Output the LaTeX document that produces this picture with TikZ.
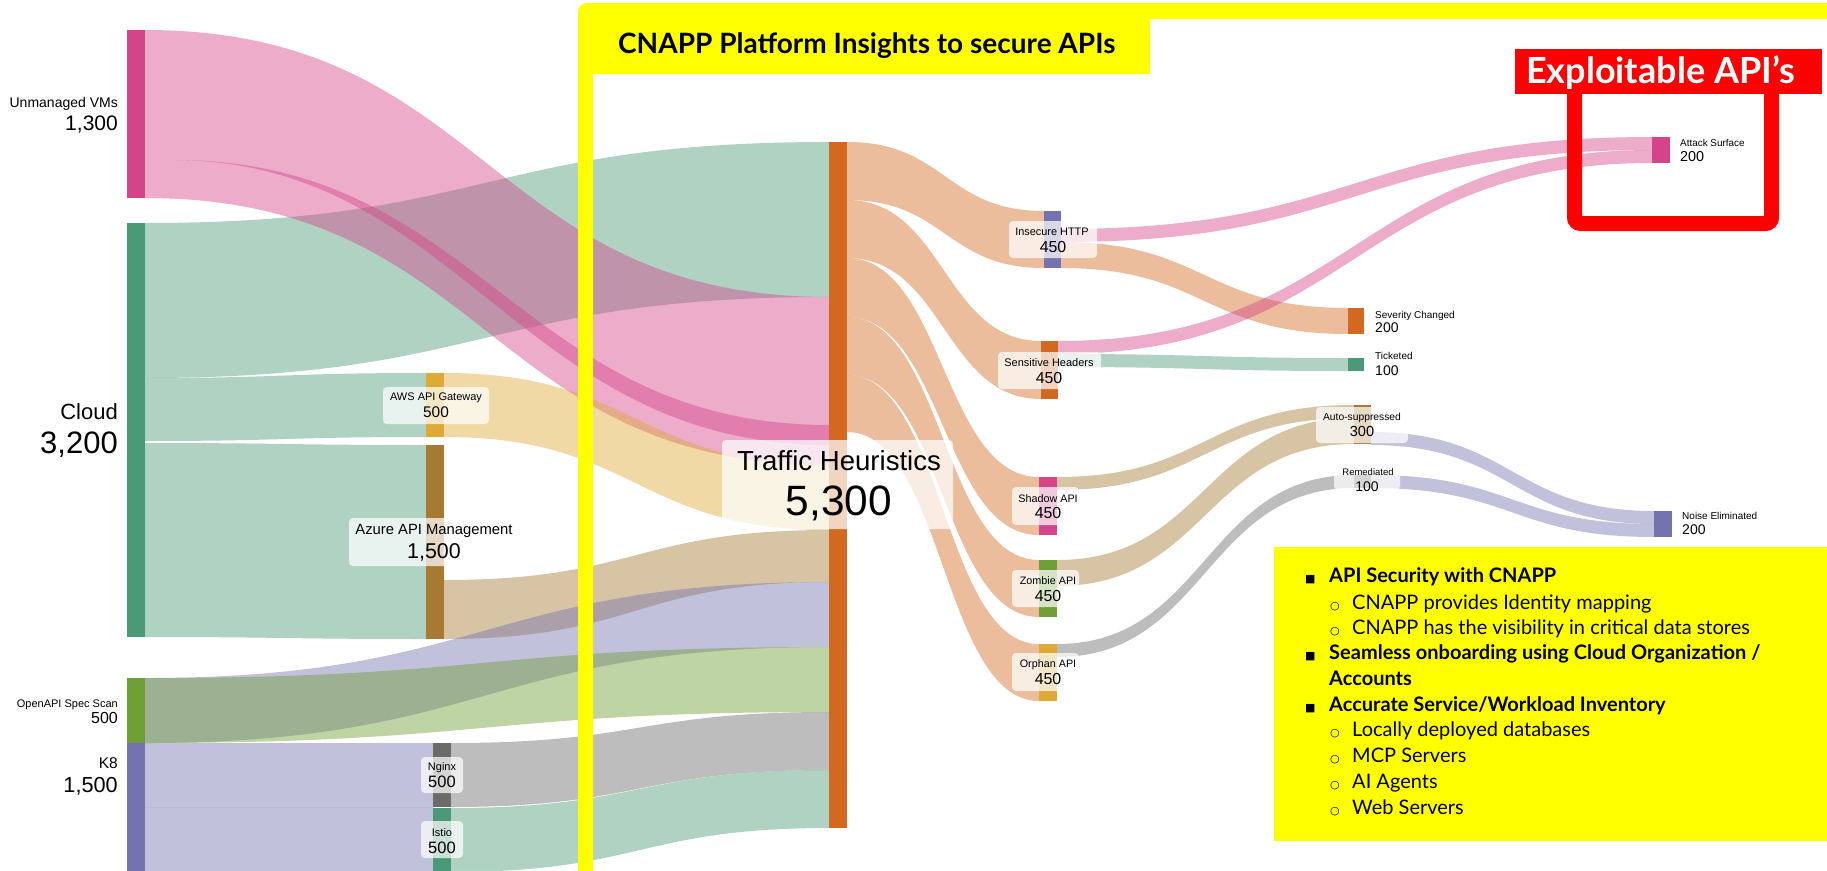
\documentclass[tikz,border=0pt]{standalone}
\usepackage{fontspec}
\setmainfont{Liberation Sans}
\newfontfamily\grot{Lato}
\newfontfamily\symf{DejaVu Sans}
\definecolor{cUVM}{HTML}{D44488}
\definecolor{cCloud}{HTML}{4A9A78}
\definecolor{cOpen}{HTML}{6E9E34}
\definecolor{cKeight}{HTML}{7572B0}
\definecolor{cAWS}{HTML}{DEA934}
\definecolor{cAzure}{HTML}{A67A32}
\definecolor{cNginx}{HTML}{6B6B6B}
\definecolor{cTH}{HTML}{D2691E}
\definecolor{yel}{HTML}{FFFF00}
\definecolor{redx}{HTML}{FF0000}
\newcommand{\fs}[1]{\fontsize{#1}{#1}\selectfont}
% flow band: color, x1, y1top, y1bot, x2, y2top, y2bot
\newcommand{\flow}[7]{\fill[#1,fill opacity=0.44] (#2,#3) .. controls ({(#2+#5)/2},#3) and ({(#2+#5)/2},#6) .. (#5,#6) -- (#5,#7) .. controls ({(#2+#5)/2},#7) and ({(#2+#5)/2},#4) .. (#2,#4) -- cycle;}
% bar node: name, color, x1, y1, x2, y2
\newcommand{\mkbar}[6]{\node[fill=#2, inner sep=0pt, outer sep=0pt, minimum width={#5-#3}, minimum height={#6-#4}, anchor=north west] (#1) at (#3,#4) {};}
\tikzset{
  lbox/.style={fill=white, fill opacity=0.72, rounded corners=4},
  lab/.style={inner sep=0pt, font=#1},
  lab/.default={\fs{11}},
}
\begin{document}
\begin{tikzpicture}[x=1pt,y=-1pt]
\useasboundingbox (0,0) rectangle (1827,870);
\clip (0,0) rectangle (1827,870);
\fill[white] (0,0) rectangle (1827,870);

% ---------- flows, left part ----------
\flow{cCloud}{145}{223}{378}{829}{142}{297}
\flow{cUVM}{145}{30}{198}{829}{297}{465}
\fill[cUVM,fill opacity=0.44] (174,160) .. controls (480,160) and (520,425) .. (829,425) -- (829,445) .. controls (520,445) and (460,161) .. (174,160) -- cycle;
\flow{cCloud}{145}{378}{441}{426}{373}{437}
\flow{cCloud}{145}{443}{637}{426}{445}{639}
\flow{cAWS}{444}{373}{437}{829}{465}{530}
\flow{cAzure}{444}{580}{639}{829}{530}{582}
\flow{cKeight}{145}{678}{743}{829}{582}{647}
\flow{cOpen}{145}{678}{743}{829}{647}{712}
\flow{cKeight}{145}{743}{807}{433}{743}{807}
\flow{cKeight}{145}{808}{872}{433}{808}{872}
\draw[cKeight!50, line width=0.6] (145,807.5) -- (433,807.5);
\flow{cNginx}{451}{743}{807}{829}{712}{770}
\flow{cCloud}{451}{808}{872}{829}{770}{828}

% ---------- flows, right part ----------
\flow{cTH}{847}{142}{200}{1044}{211}{268}
\flow{cTH}{847}{200}{258}{1041}{341}{399}
\flow{cTH}{847}{258}{317}{1039}{477}{535}
\flow{cTH}{847}{317}{375}{1039}{560}{617}
\flow{cTH}{847}{375}{432}{1039}{644}{701}
\flow{cUVM}{1061}{229}{242}{1652}{137}{150}
\flow{cTH}{1061}{242}{268}{1348}{308}{334}
\flow{cUVM}{1058}{341}{354}{1652}{150}{163}
\flow{cCloud}{1058}{354}{367}{1348}{358}{371}
\flow{cAzure}{1057}{477}{490}{1354}{405}{418}
\flow{cAzure}{1057}{560}{586}{1354}{418}{444}
\flow{cNginx}{1057}{644}{657}{1354}{475}{488}
\flow{cKeight}{1371}{432}{445}{1654}{511}{524}
\flow{cKeight}{1371}{475}{488}{1654}{524}{537}

% ---------- bars ----------
\mkbar{uvm}{cUVM}{127}{30}{145}{198}
\mkbar{cloud}{cCloud}{127}{223}{145}{637}
\mkbar{openapi}{cOpen}{127}{678}{145}{743}
\mkbar{keight}{cKeight}{127}{743}{145}{940}
\mkbar{aws}{cAWS}{426}{373}{444}{437}
\mkbar{azure}{cAzure}{426}{445}{444}{639}
\mkbar{nginx}{cNginx}{433}{743}{451}{807}
\mkbar{istio}{cCloud}{433}{808}{451}{872}
\mkbar{th}{cTH}{829}{142}{847}{828}
\mkbar{ih}{cKeight}{1044}{211}{1061}{268}
\mkbar{sh}{cTH}{1041}{341}{1058}{399}
\mkbar{shadow}{cUVM}{1039}{477}{1057}{535}
\mkbar{zombie}{cOpen}{1039}{560}{1057}{617}
\mkbar{orphan}{cAWS}{1039}{644}{1057}{701}
\mkbar{sev}{cTH}{1348}{308}{1364}{334}
\mkbar{tick}{cCloud}{1348}{358}{1364}{371}
\mkbar{auto}{cAzure}{1354}{405}{1371}{444}
\mkbar{rem}{cNginx}{1354}{475}{1371}{488}
\mkbar{as}{cUVM}{1652}{137}{1670}{163}
\mkbar{noise}{cKeight}{1654}{511}{1672}{537}

% ---------- left labels ----------
\node[lab={\fs{14}}, anchor=base east] (luvm) at (118,107) {Unmanaged VMs};
\node[lab={\fs{21}}, anchor=base east] (nuvm) at (118,130.5) {1,300};
\node[lab={\fs{22}}, anchor=base east] (lcloud) at (118,419) {Cloud};
\node[lab={\fs{31}}, anchor=base east] (ncloud) at (118,453) {3,200};
\node[lab={\fs{11}}, anchor=base east] (lopen) at (118,707) {OpenAPI Spec Scan};
\node[lab={\fs{16}}, anchor=base east] (nopen) at (118,723) {500};
\node[lab={\fs{15.5}}, anchor=base east] (lk8) at (118,768) {K8};
\node[lab={\fs{21.7}}, anchor=base east] (nk8) at (118,792) {1,500};

% ---------- boxed labels ----------
\fill[lbox] (383,387) rectangle (489,424);
\node[lab={\fs{11}}, anchor=base] (laws) at (436,400) {AWS API Gateway};
\node[lab={\fs{15.4}}, anchor=base] (naws) at (436,417) {500};
\fill[lbox] (349,518) rectangle (513,566);
\node[lab={\fs{14.8}}, anchor=base] (lazure) at (434,534) {Azure API Management};
\node[lab={\fs{21.4}}, anchor=base] (nazure) at (434,558) {1,500};
\fill[lbox] (421,757) rectangle (463,793);
\node[lab={\fs{11}}, anchor=base] (lnginx) at (442,770) {Nginx};
\node[lab={\fs{16.5}}, anchor=base] (nnginx) at (442,787) {500};
\fill[lbox] (421,821) rectangle (463,858);
\node[lab={\fs{11}}, anchor=base] (listio) at (442,836) {Istio};
\node[lab={\fs{16.5}}, anchor=base] (nistio) at (442,853) {500};

\fill[lbox] (722,440) rectangle (953,529);
\node[lab={\fs{27.6}}, anchor=base] (lth) at (839,470) {Traffic Heuristics};
\node[lab={\fs{42.4}}, anchor=base] (nth) at (839,515) {5,300};

\fill[lbox] (1009,221) rectangle (1097,258);
\node[lab={\fs{10.9}}, anchor=base] (lih) at (1052,235) {Insecure HTTP};
\node[lab={\fs{15.9}}, anchor=base] (nih) at (1053,252) {450};
\fill[lbox] (998,352) rectangle (1101,389);
\node[lab={\fs{11}}, anchor=base] (lsh) at (1049,366) {Sensitive Headers};
\node[lab={\fs{15.9}}, anchor=base] (nsh) at (1049,383) {450};
\fill[lbox] (1012,487) rectangle (1079,525);
\node[lab={\fs{10.8}}, anchor=base] (lshadow) at (1048,502) {Shadow API};
\node[lab={\fs{15.9}}, anchor=base] (nshadow) at (1048,518) {450};
\fill[lbox] (1012,570) rectangle (1079,607);
\node[lab={\fs{10.8}}, anchor=base] (lzombie) at (1048,584) {Zombie API};
\node[lab={\fs{15.9}}, anchor=base] (nzombie) at (1048,601) {450};
\fill[lbox] (1012,653) rectangle (1079,691);
\node[lab={\fs{10.8}}, anchor=base] (lorphan) at (1048,667) {Orphan API};
\node[lab={\fs{15.9}}, anchor=base] (norphan) at (1048,684) {450};

\fill[lbox] (1316,407) rectangle (1408,443);
\node[lab={\fs{10.3}}, anchor=base] (lauto) at (1362,420) {Auto-suppressed};
\node[lab={\fs{14.6}}, anchor=base] (nauto) at (1362,436) {300};
\fill[lbox] (1334,463) rectangle (1400,490);
\node[lab={\fs{9.5}}, anchor=base] (lrem) at (1368,475) {Remediated};
\node[lab={\fs{14}}, anchor=base] (nrem) at (1367,491) {100};

% ---------- right labels ----------
\node[lab={\fs{10}}, anchor=base west] (lsev) at (1375,318) {Severity Changed};
\node[lab={\fs{14}}, anchor=base west] (nsev) at (1375,332) {200};
\node[lab={\fs{10}}, anchor=base west] (ltick) at (1375,359.5) {Ticketed};
\node[lab={\fs{14}}, anchor=base west] (ntick) at (1375,375) {100};
\node[lab={\fs{9.9}}, anchor=base west] (las) at (1680,146) {Attack Surface};
\node[lab={\fs{14.4}}, anchor=base west] (nas) at (1680,161) {200};
\node[lab={\fs{10}}, anchor=base west] (lnoise) at (1682,519.5) {Noise Eliminated};
\node[lab={\fs{14}}, anchor=base west] (nnoise) at (1682,534) {200};

% ---------- yellow frame and title ----------
\fill[yel] (578,880) [rounded corners=9] -- (578,3) [sharp corners] -- (1830,3) -- (1830,19) -- (1150,19) -- (1150,74) -- (593,74) -- (593,880) -- cycle;
\node[lab={\grot\bfseries\fs{28}}, anchor=base west] (title) at (618,53) {CNAPP Platform Insights to secure APIs};

% ---------- red highlight ----------
\draw[redx, line width=15, rounded corners=6] (1574.5,80) rectangle (1771.5,223.5);
\fill[redx] (1515,49) rectangle (1822,94);
\node[lab={\grot\bfseries\fs{36}}, text=white, anchor=base west] (exploit) at (1526,83) {Exploitable API’s};

% ---------- info box ----------
\fill[yel] (1274,547) rectangle (1827,841);
\begin{scope}[every node/.style={inner sep=0pt, anchor=base west}]
\node[font=\symf\fs{11}] (b1) at (1305,582.7) {■};
\node[font=\grot\bfseries\fs{20}] (t1) at (1329,582.7) {API Security with CNAPP};
\node[font=\symf\fs{11}] (b2) at (1330,609.3) {○};
\node[font=\grot\fs{20}] (t2) at (1352,609.3) {CNAPP provides Identity mapping};
\node[font=\symf\fs{11}] (b3) at (1330,634) {○};
\node[font=\grot\fs{20}] (t3) at (1352,634) {CNAPP has the visibility in critical data stores};
\node[font=\symf\fs{11}] (b4) at (1305,659.3) {■};
\node[font=\grot\bfseries\fs{20}] (t4) at (1329,659.3) {Seamless onboarding using Cloud Organization /};
\node[font=\grot\bfseries\fs{20}] (t5) at (1329,685.7) {Accounts};
\node[font=\symf\fs{11}] (b6) at (1305,711.7) {■};
\node[font=\grot\bfseries\fs{20}] (t6) at (1329,711.7) {Accurate Service/Workload Inventory};
\node[font=\symf\fs{11}] (b7) at (1330,736.7) {○};
\node[font=\grot\fs{20}] (t7) at (1352,736.7) {Locally deployed databases};
\node[font=\symf\fs{11}] (b8) at (1330,762.3) {○};
\node[font=\grot\fs{20}] (t8) at (1352,762.3) {MCP Servers};
\node[font=\symf\fs{11}] (b9) at (1330,788.3) {○};
\node[font=\grot\fs{20}] (t9) at (1352,788.3) {AI Agents};
\node[font=\symf\fs{11}] (b10) at (1330,814.3) {○};
\node[font=\grot\fs{20}] (t10) at (1352,814.3) {Web Servers};
\end{scope}
\end{tikzpicture}
\end{document}
